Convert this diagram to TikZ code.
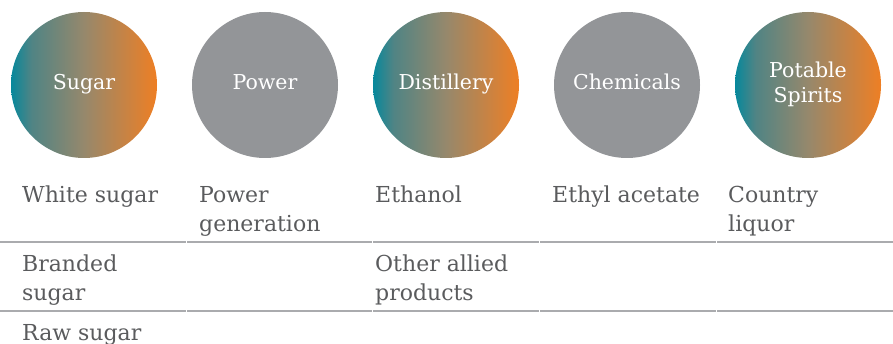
\documentclass[tikz,border=0pt]{standalone}
\usepackage{fontspec}
\setmainfont{DejaVu Serif}
\usetikzlibrary{positioning}
\definecolor{segteal}{RGB}{6,136,156}
\definecolor{segteal2}{RGB}{80,132,132}
\definecolor{segmid}{RGB}{150,136,108}
\definecolor{segorange}{RGB}{238,127,36}
\definecolor{seggray}{RGB}{147,149,152}
\definecolor{txtgray}{RGB}{90,91,93}
\definecolor{rulegray}{RGB}{170,171,174}
\pgfdeclarehorizontalshading{tealorange}{100bp}{color(0bp)=(segteal); color(25bp)=(segteal); color(32bp)=(segteal2); color(50bp)=(segmid); color(75bp)=(segorange); color(100bp)=(segorange)}
\tikzset{
  segment/.style={circle, minimum size=146pt, inner sep=0pt, text=white,
    font=\fontsize{20.5}{25}\selectfont, align=center,
    text height=15pt, text depth=5pt},
  hot/.style={segment, shade, shading=tealorange},
  cool/.style={segment, fill=seggray},
  item/.style={anchor=base west, inner sep=0pt, text=txtgray,
    font=\fontsize{22}{29}\selectfont, align=left},
  rule/.style={draw=rulegray, line width=1.5pt}
}
\begin{document}
\begin{tikzpicture}[x=1pt, y=-1pt]
  \useasboundingbox (0,0) rectangle (893,344);
  \draw
    (84,85) node[hot] (sugar) {Sugar}
    (265,85) node[cool] (power) {Power}
    (446,85) node[hot] (distillery) {Distillery}
    (627,85) node[cool] (chemicals) {Chemicals}
    (808,85) node[hot, text height=40pt] (spirits) {Potable\\Spirits};
  % base anchor sits on the last line
  \draw
    (22,203) node[item] (whitesugar) {White sugar}
    (199,232) node[item] (powergen) {Power\\generation}
    (375,203) node[item] (ethanol) {Ethanol}
    (552,203) node[item] (ethylacetate) {Ethyl acetate}
    (728,232) node[item] (countryliquor) {Country\\liquor}
    (22,301) node[item] (brandedsugar) {Branded\\sugar}
    (375,301) node[item] (otherallied) {Other allied\\products}
    (22,340) node[item] (rawsugar) {Raw sugar};
  \foreach \y in {242,311}
    \foreach \a/\b in {0/186,187/372,373/539,540/716,717/893}
      \draw[rule] (\a,\y) -- (\b,\y);
\end{tikzpicture}
\end{document}
